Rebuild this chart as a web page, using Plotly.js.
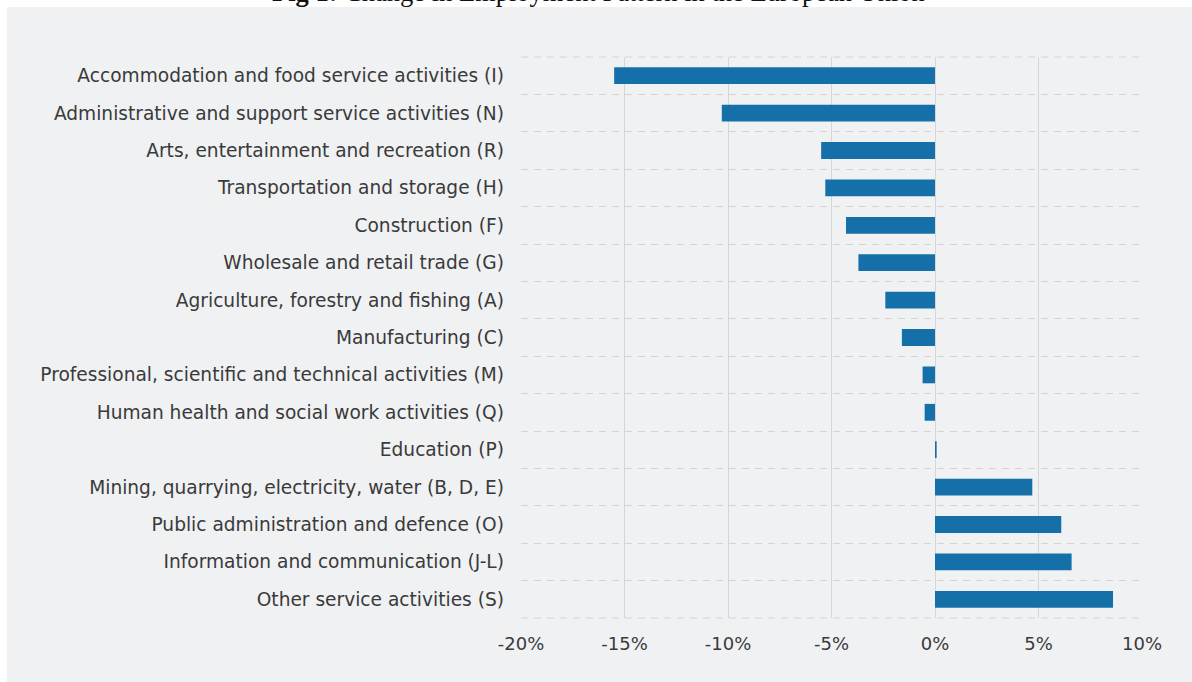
<!DOCTYPE html>
<html>
<head>
<meta charset="utf-8">
<script src="https://cdn.plot.ly/plotly-3.0.1.min.js"></script>
<style>
  html, body { margin: 0; padding: 0; background: #ffffff; }
  #chart { width: 1192px; height: 682px; }
</style>
</head>
<body>
<div id="chart"></div>
<script>
const categories = [
  "Accommodation and food service activities (I)",
  "Administrative and support service activities (N)",
  "Arts, entertainment and recreation (R)",
  "Transportation and storage (H)",
  "Construction (F)",
  "Wholesale and retail trade (G)",
  "Agriculture, forestry and fishing (A)",
  "Manufacturing (C)",
  "Professional, scientific and technical activities (M)",
  "Human health and social work activities (Q)",
  "Education (P)",
  "Mining, quarrying, electricity, water (B, D, E)",
  "Public administration and defence (O)",
  "Information and communication (J-L)",
  "Other service activities (S)"
];
const changePct = [-15.5, -10.3, -5.5, -5.3, -4.3, -3.7, -2.4, -1.6, -0.6, -0.5, 0.08, 4.7, 6.1, 6.6, 8.6];
const xTickVals = [-20, -15, -10, -5, 0, 5, 10];
const xTickText = ["-20%", "-15%", "-10%", "-5%", "0%", "5%", "10%"];
const titleText = "<b>Fig 1:</b> Change in Employment Pattern in the European Union";

const W = 1192, H = 682;
const M = {l: 521, r: 50, t: 57, b: 64};
const pw = W - M.l - M.r, ph = H - M.t - M.b;
const px = x => (x - M.l) / pw;
const py = y => 1 - (y - M.t) / ph;

const trace = {
  type: "bar",
  orientation: "h",
  y: categories,
  x: changePct,
  marker: {color: "#1570aa"},
  hoverinfo: "skip"
};

const dashStyle = {color: "#d8d4cd", width: 1, dash: "7px,6px"};

const layout = {
  width: W, height: H,
  margin: M,
  paper_bgcolor: "#ffffff",
  plot_bgcolor: "rgba(0,0,0,0)",
  bargap: 0.55,
  showlegend: false,
  font: {family: "'DejaVu Sans', 'Open Sans', sans-serif", color: "#3a3a3a", size: 18.6},
  xaxis: {
    range: [-20, 10],
    tickvals: xTickVals,
    ticktext: xTickText,
    showgrid: true,
    gridcolor: "#d6d6d6",
    gridwidth: 1,
    zeroline: true,
    zerolinecolor: "#d6d6d6",
    zerolinewidth: 1,
    showline: false,
    ticks: "",
    ticklabelstandoff: 13,
    tickfont: {size: 18, color: "#3a3a3a"},
    fixedrange: true
  },
  yaxis: {
    type: "category",
    autorange: "reversed",
    tickson: "boundaries",
    showgrid: true,
    gridcolor: dashStyle.color,
    griddash: dashStyle.dash,
    gridwidth: dashStyle.width,
    showline: false,
    ticks: "",
    ticklabelstandoff: 16,
    tickfont: {size: 18.6, color: "#3a3a3a"},
    fixedrange: true
  },
  shapes: [
    {
      type: "rect", xref: "paper", yref: "paper", layer: "below",
      x0: px(7), x1: px(1200), y0: py(690), y1: py(7),
      fillcolor: "#f0f1f3", line: {width: 0}
    },
    {type: "line", xref: "paper", yref: "paper", layer: "below", x0: 0, x1: 1, y0: 1, y1: 1, line: dashStyle},
    {type: "line", xref: "paper", yref: "paper", layer: "below", x0: 0, x1: 1, y0: 0, y1: 0, line: dashStyle}
  ],
  annotations: [{
    xref: "paper", yref: "paper",
    x: px(598), y: py(9),
    xanchor: "center", yanchor: "bottom",
    showarrow: false,
    text: titleText,
    font: {family: "'Liberation Serif', 'DejaVu Serif', serif", size: 26.5, color: "#111111"}
  }]
};

Plotly.newPlot("chart", [trace], layout, {displayModeBar: false, staticPlot: true});
</script>
</body>
</html>
